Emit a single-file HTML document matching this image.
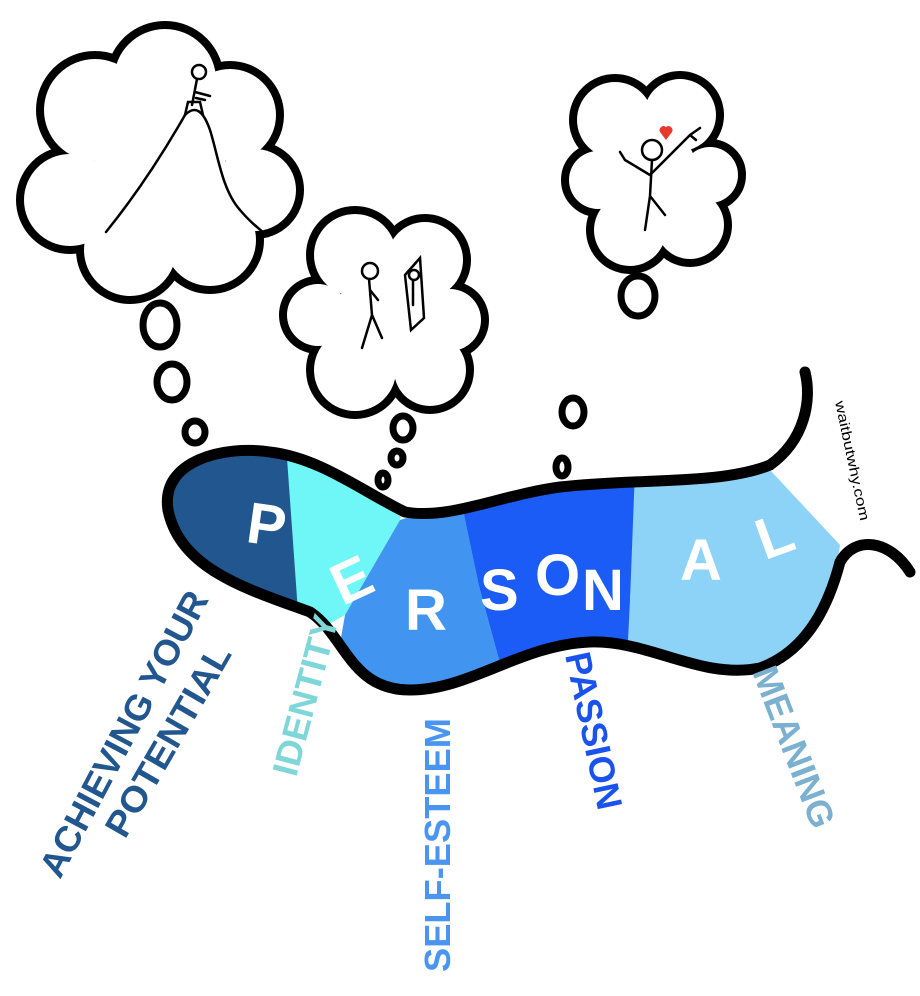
<!DOCTYPE html>
<html><head><meta charset="utf-8"><style>
html,body{margin:0;padding:0;background:#fff}
svg{display:block}
.lbl{font-family:"Liberation Sans",sans-serif;font-weight:bold;font-size:36px}
.let{font-family:"Liberation Sans",sans-serif;font-weight:bold;font-size:58px;fill:#fff}
</style></head><body>
<svg width="920" height="996" viewBox="0 0 920 996">
<defs>
<clipPath id="worm"><path d="M165,485 C175,455 225,445 270,452 C320,458 360,490 405,512 C450,520 500,495 560,487 C640,478 720,485 770,470 L840,545 C835,590 810,650 760,668 C700,680 650,640 590,642 C520,645 470,690 410,690 C350,690 345,635 310,612 C250,590 180,570 168,510 Z"/></clipPath>
</defs>
<g clip-path="url(#worm)">
<rect x="150" y="430" width="150" height="280" fill="#21568f"/>
<polygon points="285,430 420,430 400,520 345,615 300,640" fill="#6ff7f7"/>
<polygon points="400,520 465,500 480,590 510,700 330,700 345,615" fill="#4195f0"/>
<polygon points="460,495 640,480 630,600 630,700 510,700 480,590" fill="#1a5cf5"/>
<polygon points="635,470 860,440 860,700 625,700 630,600" fill="#8dd3f8"/>
</g>
<g fill="none" stroke="#000" stroke-width="11" stroke-linecap="round">
<path d="M168,510 C160,460 225,445 270,452 C320,458 360,490 405,512 C450,520 500,495 560,487 C640,478 720,485 770,465 C805,440 812,400 805,372"/>
<path d="M168,510 C180,570 250,590 310,612 C345,635 350,690 410,690 C470,690 520,645 590,642 C650,640 700,680 760,668 C810,650 830,600 840,562 C855,535 890,540 910,572"/>
</g>
<g>
<text class="let" x="248" y="545" transform="rotate(8 270 520)">P</text>
<text class="let" x="330" y="600" transform="rotate(-25 350 575)">E</text>
<text class="let" x="405" y="630">R</text>
<text class="let" x="480" y="610">S</text>
<text class="let" x="535" y="595">O</text>
<text class="let" x="582" y="610">N</text>
<text class="let" x="680" y="580">A</text>
<text class="let" x="755" y="555" transform="rotate(-20 775 530)">L</text>
</g>
<g stroke="#000" stroke-width="8" fill="#000">
<g><circle cx="95" cy="110" r="55"/><circle cx="165" cy="80" r="55"/><circle cx="230" cy="115" r="50"/><circle cx="255" cy="190" r="45"/><circle cx="210" cy="240" r="50"/><circle cx="130" cy="250" r="50"/><circle cx="70" cy="200" r="50"/><circle cx="160" cy="170" r="70"/></g>
<g><circle cx="355" cy="255" r="45"/><circle cx="425" cy="260" r="42"/><circle cx="450" cy="320" r="35"/><circle cx="430" cy="370" r="40"/><circle cx="355" cy="370" r="45"/><circle cx="318" cy="315" r="35"/><circle cx="385" cy="320" r="55"/></g>
<g><circle cx="615" cy="120" r="42"/><circle cx="680" cy="115" r="40"/><circle cx="710" cy="175" r="32"/><circle cx="690" cy="225" r="38"/><circle cx="630" cy="230" r="40"/><circle cx="598" cy="180" r="33"/><circle cx="650" cy="170" r="50"/></g>
</g>
<g fill="#fff">
<circle cx="95" cy="110" r="51"/><circle cx="165" cy="80" r="51"/><circle cx="230" cy="115" r="46"/><circle cx="255" cy="190" r="41"/><circle cx="210" cy="240" r="46"/><circle cx="130" cy="250" r="46"/><circle cx="70" cy="200" r="46"/><circle cx="160" cy="170" r="66"/>
<circle cx="355" cy="255" r="41"/><circle cx="425" cy="260" r="38"/><circle cx="450" cy="320" r="31"/><circle cx="430" cy="370" r="36"/><circle cx="355" cy="370" r="41"/><circle cx="318" cy="315" r="31"/><circle cx="385" cy="320" r="51"/>
<circle cx="615" cy="120" r="38"/><circle cx="680" cy="115" r="36"/><circle cx="710" cy="175" r="28"/><circle cx="690" cy="225" r="34"/><circle cx="630" cy="230" r="36"/><circle cx="598" cy="180" r="29"/><circle cx="650" cy="170" r="46"/>
</g>
<g fill="none" stroke="#000" stroke-width="7">
<ellipse cx="160" cy="325" rx="17" ry="22"/><ellipse cx="172" cy="382" rx="15" ry="18"/><ellipse cx="195" cy="432" rx="10" ry="11"/>
<ellipse cx="403" cy="428" rx="10" ry="12"/><ellipse cx="397" cy="458" rx="6" ry="7"/><ellipse cx="383" cy="480" rx="5" ry="7"/>
<ellipse cx="638" cy="296" rx="17" ry="20"/><ellipse cx="573" cy="412" rx="11" ry="14"/><ellipse cx="562" cy="467" rx="6" ry="9"/>
</g>
<g fill="none" stroke="#000" stroke-width="2.5" stroke-linecap="round">
<path d="M106,232 C140,190 165,150 185,115 C195,105 203,110 210,130 C218,155 222,190 240,210 C250,222 260,230 268,236"/>
<path d="M185,115 L188,102 L200,102 L203,115"/>
<circle cx="199" cy="72" r="7"/><path d="M197,79 L192,105 M195,92 L210,96 M196,98 L205,100"/>
<circle cx="370" cy="271" r="8"/><path d="M369,279 L372,315 L362,348 M372,315 L382,338 M370,290 L378,300"/>
<path d="M405,275 L420,258 L424,318 L411,330 Z"/><circle cx="414" cy="275" r="5"/><path d="M413,280 L413,305"/>
<circle cx="652" cy="150" r="10"/><path d="M652,160 L650,196 L645,230 M650,196 L665,215 M650,175 L625,160 M620,152 L625,160 M650,175 L690,135 M690,135 L700,128 M690,135 L696,140"/>
</g>
<path d="M666,140 l-6,-8 a4,4 0 0 1 6,-5 a4,4 0 0 1 6,5 z" fill="#e8392b"/>
<text class="lbl" x="0" y="0" fill="#21568f" transform="translate(60,880) rotate(-62)" textLength="318" lengthAdjust="spacingAndGlyphs">ACHIEVING YOUR</text>
<text class="lbl" x="0" y="0" fill="#21568f" transform="translate(125,840) rotate(-60)" textLength="215" lengthAdjust="spacingAndGlyphs">POTENTIAL</text>
<text class="lbl" x="0" y="0" fill="#7fd6d8" transform="translate(296,778) rotate(-75)" textLength="165" lengthAdjust="spacingAndGlyphs">IDENTITY</text>
<text class="lbl" x="0" y="0" fill="#4a95f0" transform="translate(450,972) rotate(-90)" textLength="254" lengthAdjust="spacingAndGlyphs">SELF-ESTEEM</text>
<text class="lbl" x="0" y="0" fill="#1a52ee" transform="translate(565,655) rotate(78)" textLength="160" lengthAdjust="spacingAndGlyphs">PASSION</text>
<text class="lbl" x="0" y="0" fill="#7bb0d0" transform="translate(752,672) rotate(69)" textLength="170" lengthAdjust="spacingAndGlyphs">MEANING</text>
<text x="0" y="0" font-family="Liberation Sans,sans-serif" font-size="14" fill="#000" transform="translate(835,402) rotate(78)" textLength="122" lengthAdjust="spacingAndGlyphs">waitbutwhy.com</text>
</svg>
</body></html>
